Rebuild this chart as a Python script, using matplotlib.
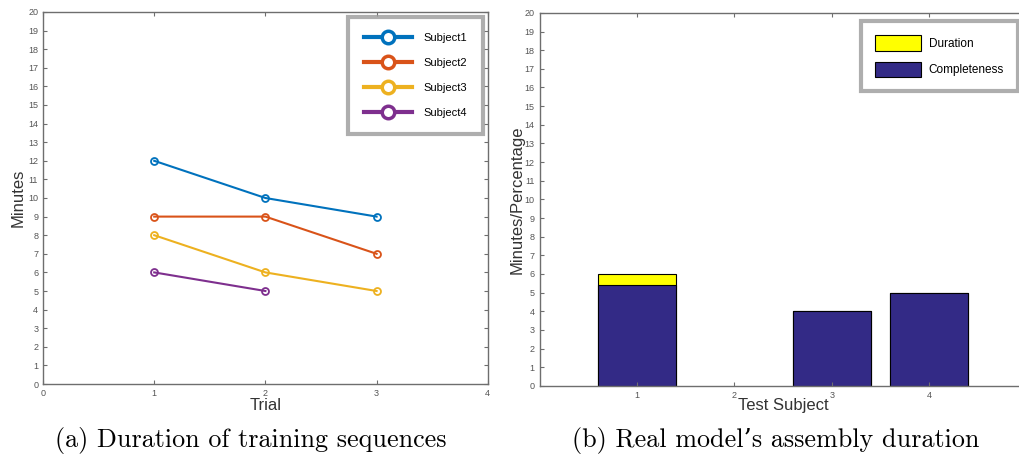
import matplotlib
matplotlib.use("Agg")
from matplotlib import pyplot as plt
from matplotlib.lines import Line2D

# 数据
trials = [1, 2, 3]
subject1 = [12, 10, 9]
subject2 = [9, 9, 7]
subject3 = [8, 6, 5]
subject4 = [6, 5]
subject_names = ["Subject1", "Subject2", "Subject3", "Subject4"]
subject_colors = ["#0072BD", "#D95319", "#EDB120", "#7E2F8E"]

test_subjects = [1, 2, 3, 4]
duration = [6, 0, 4, 5]
completeness = [5.4, 0, 4, 5]

plt.rcParams["font.family"] = ["Liberation Sans", "DejaVu Sans"]

fig = plt.figure(figsize=(10.2, 4.61), dpi=100)
spine_c = "#6e6e6e"
tick_c = "#555555"


def style_axes(ax):
    for s in ax.spines.values():
        s.set_color(spine_c)
        s.set_linewidth(1.0)
    ax.tick_params(direction="in", length=3, width=0.8, color=spine_c,
                   labelsize=6.5, labelcolor=tick_c, top=True, right=True)


# (a) 折线图
ax1 = fig.add_axes([0.0422, 0.167, 0.436, 0.807])
series = [subject1, subject2, subject3, subject4]
for vals, c in zip(series, subject_colors):
    ax1.plot(trials[:len(vals)], vals, color=c, lw=1.5, marker="o", ms=5,
             mfc="none", mec=c, mew=1.3)
ax1.set_xlim(0, 4)
ax1.set_ylim(0, 20)
ax1.set_xticks(range(0, 5))
ax1.set_yticks(range(0, 21))
style_axes(ax1)
ax1.set_xlabel("Trial", fontsize=12, labelpad=0, color="#333333")
ax1.set_ylabel("Minutes", fontsize=12, labelpad=2, color="#333333")
handles = [Line2D([], [], color=c, lw=3, marker="o", ms=9, mfc="white",
                  mec=c, mew=2.5) for c in subject_colors]
leg1 = ax1.legend(handles, subject_names, loc="upper right",
                  bbox_to_anchor=(0.4735, 0.963), bbox_transform=fig.transFigure,
                  fontsize=8, fancybox=False, handlelength=4.3, labelspacing=1.35,
                  borderpad=1.45, handletextpad=1.0, borderaxespad=0)
leg1.get_frame().set_edgecolor("#9a9a9a")
leg1.get_frame().set_linewidth(3)

# (b) 柱状图
ax2 = fig.add_axes([0.529, 0.163, 0.4775, 0.809])
edges = ["black" if v > 0 else "none" for v in duration]
ax2.bar(test_subjects, duration, width=0.8, color="#FFFF00", edgecolor=edges,
        linewidth=0.8, label="Duration")
ax2.bar(test_subjects, completeness, width=0.8, color="#332A86", edgecolor=edges,
        linewidth=0.8, label="Completeness")
ax2.set_xlim(0, 5)
ax2.set_ylim(0, 20)
ax2.set_xticks(test_subjects)
ax2.set_yticks(range(0, 21))
style_axes(ax2)
ax2.set_xlabel("Test Subject", fontsize=12, labelpad=-1, color="#333333")
ax2.set_ylabel("Minutes/Percentage", fontsize=12, labelpad=0, color="#333333")
leg2 = ax2.legend(loc="upper right", bbox_to_anchor=(0.998, 0.954),
                  bbox_transform=fig.transFigure, fontsize=8.5, fancybox=False,
                  handlelength=3.9, handleheight=1.6, labelspacing=0.95,
                  borderpad=1.2, handletextpad=0.6, borderaxespad=0)
leg2.get_frame().set_edgecolor("#9a9a9a")
leg2.get_frame().set_linewidth(3)
for p in leg2.get_patches():
    p.set_edgecolor("black")

# 子图标题
fig.text(0.246, 0.045, "(a) Duration of training sequences", ha="center",
         va="center", fontsize=18.8, family="cmr10")
fig.text(0.760, 0.045, "(b) Real model\u2019s assembly duration", ha="center",
         va="center", fontsize=18.8, family=["cmr10", "DejaVu Serif"])

fig.savefig("out.png", dpi=100)
